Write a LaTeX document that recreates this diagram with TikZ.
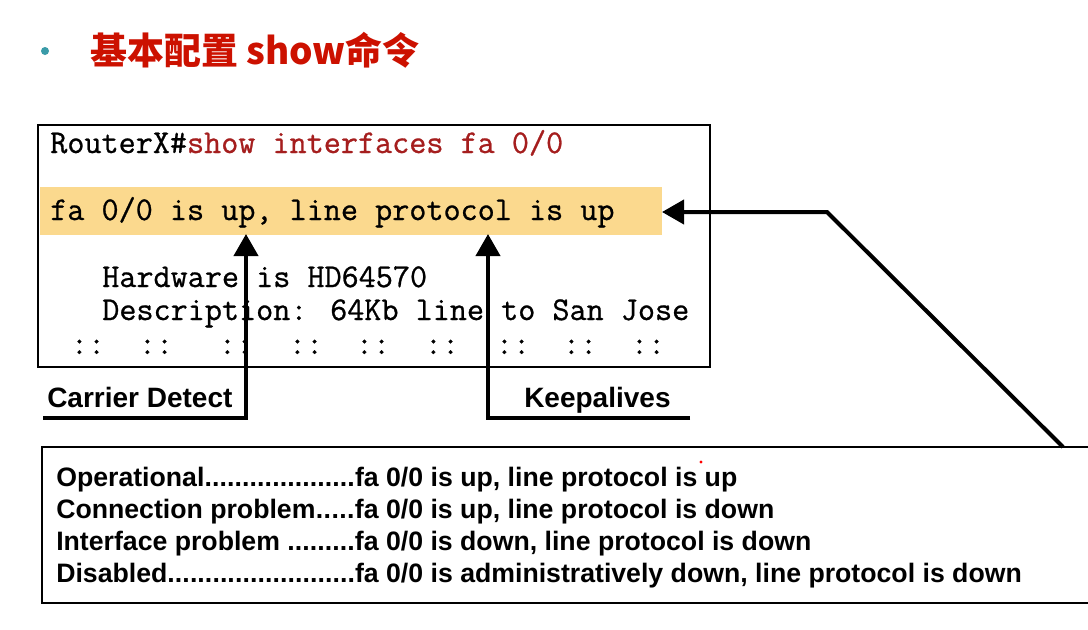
\documentclass[tikz,border=0pt]{standalone}
\usepackage{fontspec}
\setmainfont{Liberation Sans}
\newfontfamily\cjkfont{Noto Sans CJK SC}
\newfontfamily\monofont{Latin Modern Mono}[FakeBold=0.8]
\usetikzlibrary{arrows.meta}
\definecolor{titlered}{RGB}{204,17,0}
\definecolor{cmdred}{RGB}{165,30,30}
\definecolor{bandfill}{RGB}{251,217,142}
\definecolor{bulletteal}{RGB}{58,155,168}
% label, dot leader to a fixed column, then the interface state
\newcommand\stateline[2]{\hbox to 224pt{#1\xleaders\hbox{.}\hfill}#2}

\begin{document}
\begin{tikzpicture}[x=0.75pt,y=-0.75pt,
  cli/.style={font=\monofont\fontsize{24.9}{26}\selectfont, anchor=base west, inner sep=0pt},
  lbl/.style={font=\bfseries\fontsize{21}{24}\selectfont, anchor=base west, inner sep=0pt},
  state/.style={font=\bfseries\fontsize{20}{24}\selectfont, anchor=base west, inner sep=0pt},
  frame/.style={draw=black, line width=2.2pt},
  pointer/.style={line width=3pt, -{Triangle[length=16.5pt,width=18pt]}},
]
\useasboundingbox (0,0) rectangle (1088,629);
\clip (0,0) rectangle (1088,629);
\fill[white] (0,0) rectangle (1088,629);

% heading
\node[circle, fill=bulletteal, minimum size=6pt, inner sep=0pt] (dot) at (45,51) {};
\node[anchor=west, inner sep=0pt, text=titlered,
      font=\cjkfont\bfseries\fontsize{27.7}{30}\selectfont] (title) at (90,50) {基本配置 show命令};

% console output
\fill[bandfill] (40,187) rectangle (662,235);
\draw[frame] (38,125) rectangle (710,367);
\node[cli] (cmd) at (50,153) {RouterX\#\textcolor{cmdred}{show interfaces fa 0/0}};
\node[cli] (status) at (50,220) {fa 0/0 is up, line protocol is up};
\node[cli] (hw) at (102,287) {Hardware is HD64570};
\node[cli] (desc) at (102,320) {Description: 64Kb line to San Jose};
\foreach \x in {88,156,236,306,373,442,513,580,648}
  \node[cli, anchor=base] (col\x) at (\x,354) {::};

% callout labels
\node[lbl] (cd) at (47,407) {Carrier Detect};
\node[lbl] (ka) at (524,407) {Keepalives};

\coordinate (cdStart) at (43,418);
\coordinate (cdBend) at (246,418);
\coordinate (cdTip) at (246,234);
\coordinate (kaStart) at (690,418);
\coordinate (kaBend) at (488,418);
\coordinate (kaTip) at (488,234);
\coordinate (stStart) at (1063,447);
\coordinate (stBend) at (827,212);
\coordinate (stTip) at (662,212);

\draw[pointer] (cdStart) -- (cdBend) -- (cdTip);
\draw[pointer] (kaStart) -- (kaBend) -- (kaTip);
\draw[pointer] (stStart) -- (stBend) -- (stTip);

% state table
\draw[frame] (42,447) rectangle (1100,603);
\node[state] (s1) at (56,486) {\stateline{Operational}{fa 0/0 is up, line protocol is up}};
\node[state] (s2) at (56,518) {\stateline{Connection problem}{fa 0/0 is up, line protocol is down}};
\node[state] (s3) at (56,550) {\stateline{Interface problem\ }{fa 0/0 is down, line protocol is down}};
\node[state] (s4) at (56,582) {\stateline{Disabled}{fa 0/0 is administratively down, line protocol is down}};
\node[circle, fill=red, minimum size=2.5pt, inner sep=0pt] (mark) at (701,462) {};
\end{tikzpicture}
\end{document}
